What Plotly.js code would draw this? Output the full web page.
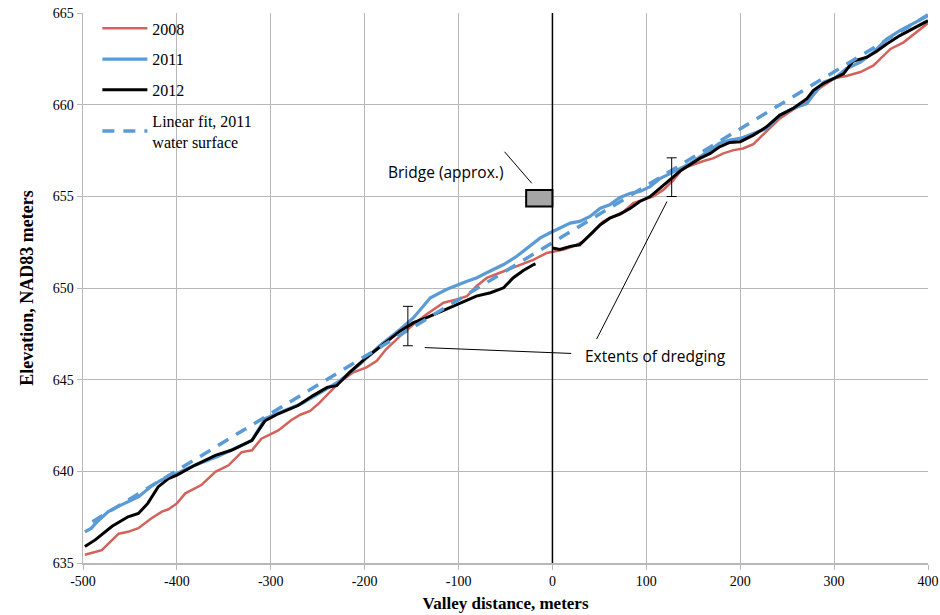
<!DOCTYPE html>
<html>
<head>
<meta charset="utf-8">
<script src="https://cdn.plot.ly/plotly-3.0.1.min.js"></script>
<style>html,body{margin:0;padding:0;background:#fff;}#chart{width:940px;height:615px;}</style>
</head>
<body>
<div id="chart"></div>
<script>
// ---- data ----
const x2008 = [-498,-480,-462,-452,-441,-427,-416,-409,-400,-391,-374,-359,-345,-331,-320,-310,-292,-278,-268,-258,-248,-237,-226,-212,-198,-187,-177,-162,-148,-134,-116,-102,-91,-81,-70,-56,-38,-20,-6,12,22,33,44,54,65,76,86,97,107,118,129,139,150,161,171,182,193,203,214,228,242,257,271,285,301,313,328,342,360,374,388,400];
const y2008 = [635.45,635.7,636.6,636.7,636.9,637.44,637.8,637.93,638.25,638.8,639.25,639.97,640.33,641.05,641.15,641.78,642.23,642.8,643.1,643.3,643.75,644.35,644.9,645.4,645.67,646.03,646.67,647.39,648.02,648.57,649.2,649.38,649.56,650.1,650.55,650.83,651.19,651.55,651.91,652.1,652.27,652.55,653.09,653.63,653.9,654.17,654.63,654.81,654.99,655.35,655.9,656.53,656.74,656.93,657.07,657.34,657.52,657.61,657.85,658.52,659.24,659.75,660.15,660.91,661.45,661.56,661.78,662.14,663.04,663.4,663.95,664.45];

const x2011 = [-498,-491,-485,-473,-462,-441,-427,-416,-402,-381,-356,-338,-320,-306,-285,-267,-249,-226,-205,-184,-162,-148,-130,-113,-91,-81,-70,-52,-38,-24,-13,-3,8,19,29,40,51,61,72,83,93,104,115,125,136,147,157,168,178,189,200,214,228,242,257,271,280,289,301,313,328,342,356,370,384,400];
const y2011 = [636.7,636.9,637.25,637.8,638.1,638.6,639.2,639.55,639.84,640.33,640.82,641.24,641.69,642.88,643.32,643.7,644.24,644.95,645.85,646.85,647.75,648.38,649.47,649.92,650.37,650.55,650.83,651.28,651.73,652.27,652.73,653.0,653.27,653.54,653.63,653.9,654.35,654.54,654.94,655.17,655.26,655.53,655.98,656.25,656.53,656.8,657.16,657.52,657.9,658.07,658.16,658.43,658.7,659.42,659.82,660.05,660.69,661.23,661.45,661.96,662.32,662.86,663.58,664.04,664.4,664.85];

const x2012 = [-498,-487,-469,-452,-441,-431,-420,-409,-400,-381,-359,-342,-331,-320,-313,-306,-292,-271,-255,-240,-230,-216,-198,-180,-162,-148,-134,-116,-98,-81,-66,-52,-42,-31,-20,-18,null,0,8,19,29,40,51,61,72,83,93,104,115,125,136,147,157,168,178,189,200,214,228,242,257,271,278,288,301,310,320,335,345,356,370,384,400];
const y2012 = [635.9,636.26,637.0,637.52,637.7,638.25,639.15,639.6,639.79,640.33,640.87,641.15,641.42,641.69,642.23,642.77,643.14,643.59,644.13,644.58,644.67,645.4,646.21,646.94,647.66,648.11,648.38,648.78,649.2,649.56,649.74,650.01,650.55,650.95,651.28,651.32,null,652.18,652.1,652.27,652.36,652.9,653.45,653.81,654.03,654.35,654.72,654.99,655.44,655.9,656.38,656.74,657.07,657.34,657.7,657.94,657.98,658.34,658.79,659.42,659.82,660.33,660.78,661.14,661.45,661.68,662.36,662.59,662.9,663.31,663.77,664.13,664.58];

const xFit = [-490, 400];
const yFit = [637.25, 664.9];

const dredgeX = [-154, 127];
const dredgeLow = [646.85, 654.99];
const dredgeHigh = [649.0, 657.1];

const bridgeX = [-28, 0];
const bridgeY = [654.45, 655.35];

const xTicks = [-500,-400,-300,-200,-100,0,100,200,300,400];
const yTicks = [635,640,645,650,655,660,665];

const serif = "Liberation Serif, Times New Roman, serif";
const sans = "Open Sans, Noto Sans, sans-serif";

const dredgeMid = dredgeX.map((_, i) => (dredgeLow[i] + dredgeHigh[i]) / 2);

const traces = [
  {x: x2008, y: y2008, name: '2008', mode: 'lines', legendgroup: 'a',
   line: {color: '#d3625b', width: 2.5}},
  {x: x2011, y: y2011, name: '2011', mode: 'lines', legendgroup: 'b',
   line: {color: '#5b9bd5', width: 3.2}},
  {x: x2012, y: y2012, name: '2012', mode: 'lines', legendgroup: 'c', connectgaps: false,
   line: {color: '#000000', width: 3}},
  {x: xFit, y: yFit, name: 'Linear fit, 2011<br>water surface', mode: 'lines', legendgroup: 'd',
   line: {color: '#5b9bd5', width: 3.5, dash: '12px,9px'}},
  {x: dredgeX, y: dredgeMid, mode: 'markers', showlegend: false, hoverinfo: 'skip',
   marker: {size: 1, color: 'rgba(0,0,0,0)'},
   error_y: {type: 'data', symmetric: false,
     array: dredgeHigh.map((h, i) => h - dredgeMid[i]),
     arrayminus: dredgeLow.map((l, i) => dredgeMid[i] - l),
     color: '#000', thickness: 1, width: 5}}
];

const layout = {
  width: 940, height: 615,
  margin: {l: 83, r: 12, t: 11, b: 52},
  paper_bgcolor: '#fff', plot_bgcolor: '#fff',
  showlegend: true,
  legend: {x: 0.017, y: 1.003, xanchor: 'left', yanchor: 'top',
    font: {family: serif, size: 16, color: '#000'},
    itemwidth: 45,
    bgcolor: 'rgba(255,255,255,0)', traceorder: 'grouped', tracegroupgap: 7},
  xaxis: {range: [-500, 400], tickvals: xTicks, ticktext: xTicks.map(String),
    showgrid: true, gridcolor: '#b8b8b8', gridwidth: 1, zeroline: false,
    showline: true, linecolor: '#b8b8b8', linewidth: 1.5,
    ticks: 'outside', ticklen: 5, tickcolor: '#b8b8b8',
    tickfont: {family: serif, size: 14, color: '#000'},
    title: {text: '<b>Valley distance, meters</b>', font: {family: serif, size: 17, color: '#000'}, standoff: 9}},
  yaxis: {range: [635, 665], tickvals: yTicks, ticktext: yTicks.map(String),
    showgrid: true, gridcolor: '#b8b8b8', gridwidth: 1, zeroline: false,
    showline: true, linecolor: '#b8b8b8', linewidth: 1.5,
    ticks: 'outside', ticklen: 5, tickcolor: '#b8b8b8',
    tickfont: {family: serif, size: 14, color: '#000'},
    title: {text: '<b>Elevation, NAD83 meters</b>', font: {family: serif, size: 18, color: '#000'}, standoff: 14}},
  shapes: [
    {type: 'line', xref: 'x', yref: 'paper', x0: 0, x1: 0, y0: 0, y1: 1,
     line: {color: '#000', width: 1.5}, layer: 'above'},
    {type: 'rect', xref: 'x', yref: 'y', x0: bridgeX[0], x1: bridgeX[1], y0: bridgeY[0], y1: bridgeY[1],
     fillcolor: '#a6a6a6', line: {color: '#000', width: 2}, layer: 'above'},
    {type: 'line', xref: 'x', yref: 'y', x0: -51, y0: 657.43, x1: -22, y1: 655.71,
     line: {color: '#000', width: 1}},
    {type: 'line', xref: 'x', yref: 'y', x0: -136, y0: 646.75, x1: 20, y1: 646.43,
     line: {color: '#000', width: 1}},
    {type: 'line', xref: 'x', yref: 'y', x0: 122, y0: 654.72, x1: 47, y1: 647.21,
     line: {color: '#000', width: 1}}
  ],
  annotations: [
    {x: -114, y: 656.35, xref: 'x', yref: 'y', text: 'Bridge (approx.)', showarrow: false,
     font: {family: sans, size: 15.5, color: '#000'}},
    {x: 110, y: 646.3, xref: 'x', yref: 'y', text: 'Extents of dredging', showarrow: false,
     font: {family: sans, size: 15.5, color: '#000'}}
  ]
};

Plotly.newPlot('chart', traces, layout, {displayModeBar: false, staticPlot: true});
</script>
</body>
</html>
